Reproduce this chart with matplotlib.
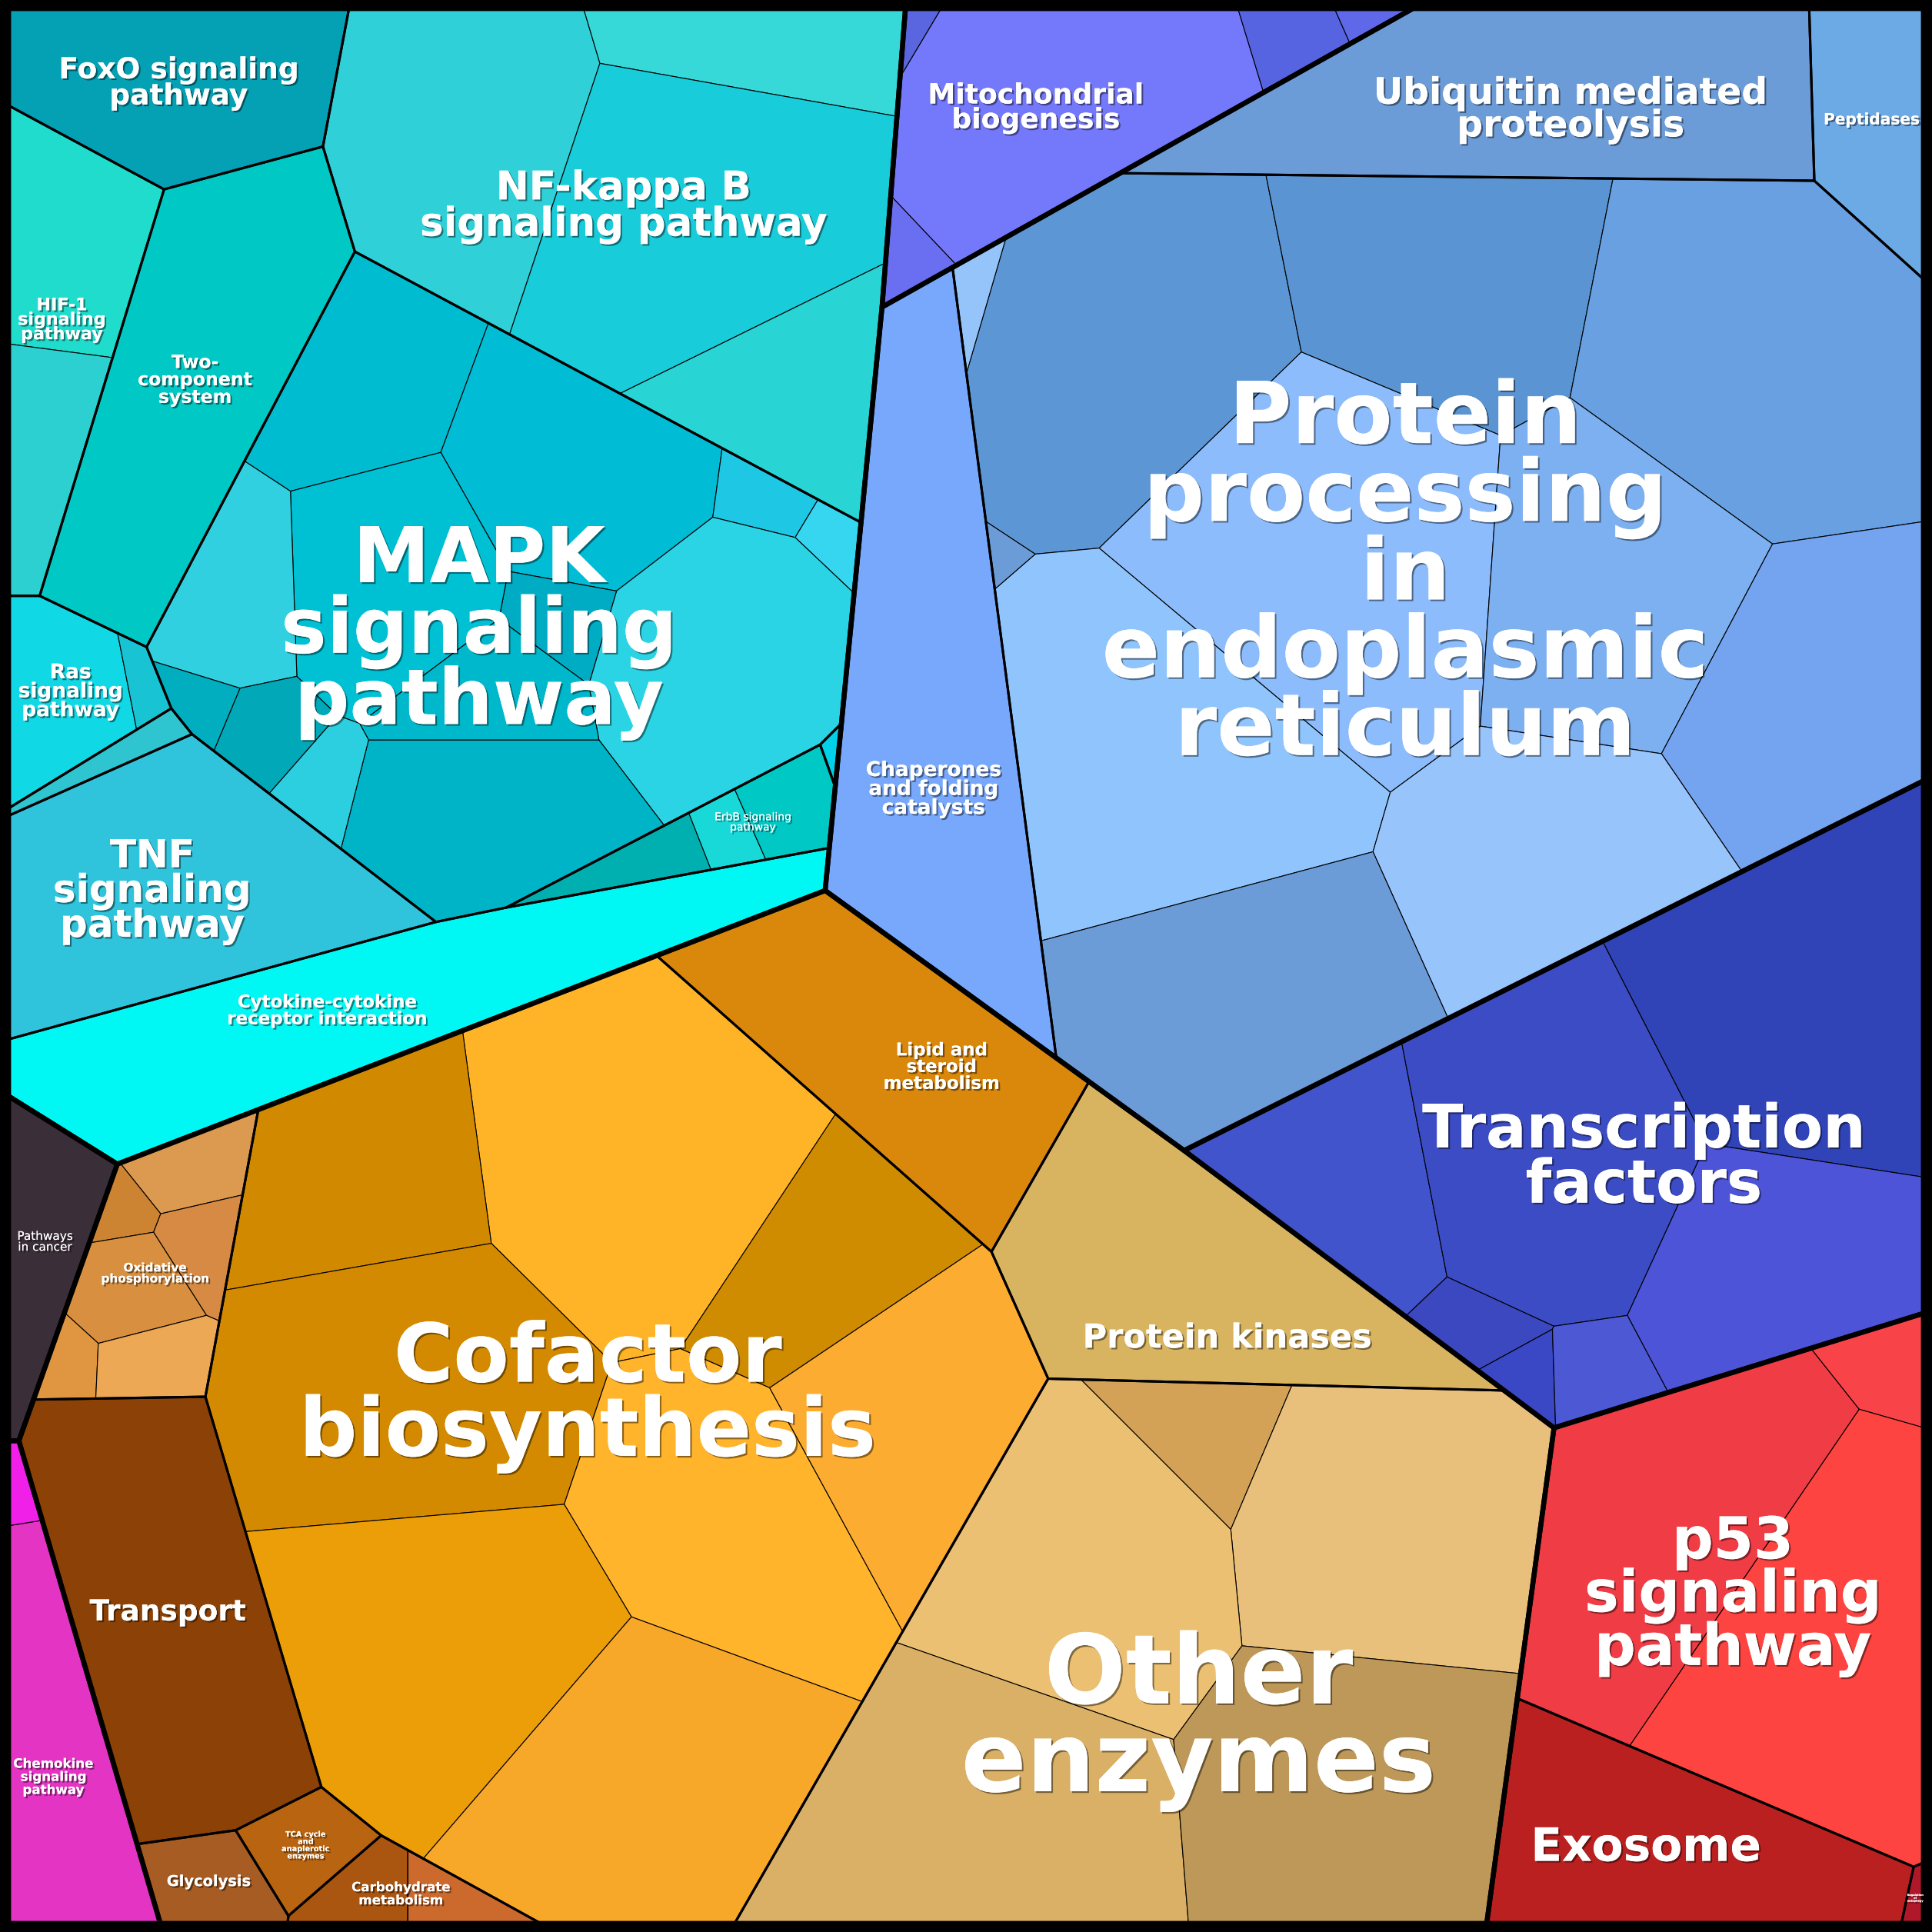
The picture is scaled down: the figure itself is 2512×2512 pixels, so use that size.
import numpy as np
import matplotlib
matplotlib.use("Agg")
import matplotlib.pyplot as plt
from matplotlib.patches import Polygon
import matplotlib.patheffects as pe

# ---- data: pathway categories (sizes of sub-categories per pathway) ----
group_names = ["Signal transduction", "Mitochondria", "Protein processing", "Transcription",
               "Metabolism", "Cancer", "Chemokine", "p53"]

pathway_labels = [
    "FoxO signaling\npathway", "NF-kappa B\nsignaling pathway", "HIF-1\nsignaling\npathway",
    "Two-\ncomponent\nsystem", "MAPK\nsignaling\npathway", "Ras\nsignaling\npathway", "",
    "TNF\nsignaling\npathway", "Cytokine-cytokine\nreceptor interaction", "ErbB signaling\npathway", "",
    "Mitochondrial\nbiogenesis",
    "Ubiquitin mediated\nproteolysis", "Peptidases", "Chaperones\nand folding\ncatalysts",
    "Protein\nprocessing\nin\nendoplasmic\nreticulum",
    "Transcription\nfactors",
    "Cofactor\nbiosynthesis", "Lipid and\nsteroid\nmetabolism", "Oxidative\nphosphorylation", "Transport",
    "Glycolysis", "TCA cycle\nand\nanaplerotic\nenzymes", "Carbohydrate\nmetabolism", "Protein kinases",
    "Other\nenzymes",
    "Pathways\nin cancer",
    "Chemokine\nsignaling\npathway",
    "p53\nsignaling\npathway", "Exosome", "Regulation\nof\nautophagy",
]
pathway_group = [0] * 11 + [1] + [2] * 4 + [3] + [4] * 9 + [5] + [6] + [7] * 3

leaf_values = [
    [31.9], [42.6, 16.4, 55.6, 21.6], [18.1, 11.0], [51.2],
    [22.0, 30.6, 3.5, 2.2, 37.3, 5.1, 27.2, 14.3, 27.4, 11.6, 5.5, 2.5, 4.5],
    [12.5, 1.7], [2.5], [49.1], [56.8], [4.1, 2.4, 5.0], [0.4],
    [41.4, 3.9, 0.9, 2.6, 0.8],
    [60.5], [16.1], [66.9], [59.8, 44.4, 66.9, 69.3, 45.9, 41.2, 61.4, 43.2, 49.1, 1.0, 2.0],
    [23.5, 51.4, 54.9, 33.8, 4.5, 2.5, 5.8],
    [62.8, 30.2, 59.0, 24.9, 46.6, 35.3, 55.7, 53.5], [44.3], [5.2, 2.0, 4.1, 6.6, 2.4, 5.2],
    [55.4], [6.7], [6.2], [4.3, 3.2], [52.0], [10.1, 51.2, 48.7, 58.0, 54.8],
    [13.2],
    [24.4, 1.2],
    [49.2, 5.2, 51.1], [38.6], [0.6],
]

# ---- layout: seed positions of the Voronoi treemap (pixel frame) ----
group_seeds = [(350, 400), (1141, 462), (1150, 478), (1157, 492),
               (648, 1171), (10, 944), (10, 1358), (1399, 1273)]
pathway_seeds = [
    (118, 91), (542, 171), (36, 243), (170, 284), (413, 412), (36, 564), (98, 665),
    (142, 764), (1490, 5673), (578, 730), (690, 690),
    (870, 95),
    (1196, 99), (1532, 89), (773, 521), (1192, 466),
    (1320, 960),
    (505, 1150), (757, 865), (125, 1080), (128, 1262), (165, 1525), (238, 1480), (290, 1540),
    (926, 962), (915, 1386),
    (45, 1010),
    (50, 1410),
    (1460, 1290), (1375, 1490), (1560, 1530),
]
leaf_seeds = [
    [(140, 70)], [(375, 120), (610, 50), (585, 190), (645, 312)], [(60, 200), (35, 390)], [(170, 320)],
    [(285, 315), (475, 385), (622, 405), (680, 440), (590, 535), (455, 495), (325, 470), (180, 475),
     (400, 680), (400, 570), (205, 595), (150, 572), (262, 645)],
    [(50, 575), (126, 560)], [(70, 632)], [(120, 735)], [(300, 818)],
    [(500, 705), (584, 672), (645, 645)], [(670, 693)],
    [(870, 95), (1050, 40), (1102, 17), (738, 220), (748, 22)],
    [(1250, 80)], [(1520, 100)], [(757, 515)],
    [(925, 290), (1175, 240), (1430, 290), (1085, 455), (1300, 470), (1470, 560), (955, 610),
     (1265, 700), (1010, 815), (818, 452), (788, 250)],
    [(1100, 970), (1255, 940), (1470, 830), (1440, 1025), (1195, 1070), (1218, 1112), (1280, 1110)],
    [(530, 925), (308, 955), (337, 1120), (669, 1017), (587, 1204), (739, 1121), (356, 1342), (493, 1460)],
    [(770, 875)], [(150, 950), (100, 990), (165, 1015), (110, 1050), (60, 1105), (125, 1108)],
    [(135, 1300)], [(165, 1525)], [(238, 1480)], [(258, 1535), (332, 1535)], [(1005, 1075)],
    [(945, 1185), (1110, 1255), (850, 1280), (780, 1480), (1090, 1455)],
    [(45, 1010)],
    [(50, 1420), (13, 1188)],
    [(1360, 1245), (1530, 1110), (1470, 1320)], [(1375, 1490)], [(1555, 1540)],
]

# ---- styles ----
leaf_colors = [
    ["#04a0b4"], ["#2fd0d8", "#36d8d8", "#18ccda", "#28d4d4"], ["#20dccc", "#2cd0d0"], ["#00c8c4"],
    ["#00bcd0", "#00bcd4", "#1ec8e4", "#36d6f0", "#2ad4e4", "#00acc4", "#00c0d4", "#30d0e0",
     "#00b4c8", "#00b8cc", "#00a8b8", "#00aec0", "#2ccfe0"],
    ["#10d8e4", "#18c4d4"], ["#2ec4d0"], ["#30c4dc"], ["#00f8f4"], ["#00b0b0", "#18d8d8", "#00c8c4"],
    ["#00d0e8"],
    ["#7478fa", "#5664e2", "#6068ea", "#6a6ef0", "#5a66e0"],
    ["#6c9cd8"], ["#6caae6"], ["#78a8fc"],
    ["#5c96d4", "#5a94d2", "#68a0e2", "#8cbcfc", "#7cb0f0", "#74a4f0", "#90c4fc", "#98c4fc",
     "#6c9cd8", "#6c9cd8", "#94c4fa"],
    ["#4254cc", "#3c4cc4", "#3044b8", "#4e54d8", "#3c48c0", "#3a48c6", "#4c58d4"],
    ["#ffb428", "#d18900", "#d48a00", "#d08c00", "#ffb42c", "#fcac30", "#ec9e08", "#f8a828"],
    ["#da880c"], ["#dc9a50", "#cc8432", "#d68a44", "#d89040", "#e09640", "#eca855"],
    ["#8c4206"], ["#a65c22"], ["#b86410"], ["#aa5510", "#cc6a2e"], ["#d8b460"],
    ["#d4a257", "#e8c07c", "#ecc072", "#d9b066", "#be9858"],
    ["#3a2e38"],
    ["#e434c4", "#f020e8"],
    ["#f03c44", "#f84448", "#fe4440"], ["#bb2020"], ["#b0182a"],
]
label_size = [27, 37, 16, 17, 72, 19, 0, 36, 16.5, 10, 0, 26, 34, 14.5, 19, 80, 56,
              76, 16.5, 11, 27, 14, 7, 12, 31, 90, 11, 12, 54, 43, 2.5]
label_weight = ["bold"] * len(pathway_labels)
label_weight[9] = "normal"
label_weight[26] = "normal"
label_nudge = {1: (-18, 3), 4: (-15, 20), 7: (-17, 2), 14: (0, 80), 8: (-30, 5), 9: (25, -8),
               11: (-25, 0), 12: (30, 8), 15: (-18, -10), 16: (0, 15), 17: (-8, -35),
               18: (40, 12), 24: (30, 50), 25: (0, 40), 27: (-5, 20), 28: (-15, 10), 29: (-15, 3)}

SIZE = 1568
FRAME = 7


def clip(poly, a, b, c):
    out = []
    n = len(poly)
    for k in range(n):
        p, q = poly[k], poly[(k + 1) % n]
        fp = a * p[0] + b * p[1] - c
        fq = a * q[0] + b * q[1] - c
        if fp <= 0:
            out.append(p)
        if (fp < 0 < fq) or (fq < 0 < fp):
            t = fp / (fp - fq)
            out.append((p[0] + t * (q[0] - p[0]), p[1] + t * (q[1] - p[1])))
    return out


def area(poly):
    if len(poly) < 3:
        return 0.0
    s = 0.0
    for k in range(len(poly)):
        x1, y1 = poly[k]
        x2, y2 = poly[(k + 1) % len(poly)]
        s += x1 * y2 - x2 * y1
    return abs(s) / 2


def centroid(poly):
    s = cx = cy = 0.0
    for k in range(len(poly)):
        x1, y1 = poly[k]
        x2, y2 = poly[(k + 1) % len(poly)]
        cr = x1 * y2 - x2 * y1
        s += cr
        cx += (x1 + x2) * cr
        cy += (y1 + y2) * cr
    return cx / (3 * s), cy / (3 * s)


def dist_to_poly(p, poly):
    # 0 inside the convex polygon, otherwise distance to its outline
    n = len(poly)
    inside = True
    best = np.inf
    for k in range(n):
        (x1, y1), (x2, y2) = poly[k], poly[(k + 1) % n]
        ex, ey = x2 - x1, y2 - y1
        if ex * (p[1] - y1) - ey * (p[0] - x1) < 0:
            inside = False
        t = np.clip(((p[0] - x1) * ex + (p[1] - y1) * ey) / (ex * ex + ey * ey), 0, 1)
        best = min(best, np.hypot(p[0] - x1 - t * ex, p[1] - y1 - t * ey))
    return 0.0 if inside else best


def bisector(sites, w, i, j):
    (xi, yi), (xj, yj) = sites[i], sites[j]
    a, b = 2 * (xj - xi), 2 * (yj - yi)
    c = xj * xj + yj * yj - xi * xi - yi * yi - w[j] + w[i]
    return a, b, c


def power_cells(domain, sites, w):
    cells = []
    for i in range(len(sites)):
        poly = list(domain)
        for j in range(len(sites)):
            if j != i and poly:
                poly = clip(poly, *bisector(sites, w, i, j))
        cells.append(poly)
    return cells


def hessian(cells, sites, w):
    n = len(sites)
    H = np.zeros((n, n))
    for i in range(n):
        for j in range(n):
            if i == j or len(cells[i]) < 3:
                continue
            a, b, c = bisector(sites, w, i, j)
            nrm = np.hypot(a, b)
            on = [p for p in cells[i] if abs(a * p[0] + b * p[1] - c) / nrm < 1e-5]
            if len(on) < 2:
                continue
            s = [(-b * p[0] + a * p[1]) / nrm for p in on]
            h = (max(s) - min(s)) / nrm
            H[i, j] -= h
            H[i, i] += h
    return H


def fit_cells(domain, sites, values):
    n = len(sites)
    if n == 1:
        return [list(domain)]
    T = np.array(values, float) / sum(values) * area(domain)
    w = np.array([dist_to_poly(s, domain) ** 2 for s in sites])
    cells = power_cells(domain, sites, w)
    A = np.array([area(c) for c in cells])
    bump = np.full(n, T.mean() * 0.02)
    for _ in range(120):
        empty = A <= 1e-9
        if not empty.any():
            break
        w[empty] += bump[empty]
        bump[empty] *= 1.3
        cells = power_cells(domain, sites, w)
        A = np.array([area(c) for c in cells])
    for _ in range(120):
        r = T - A
        if np.abs(r / T).max() < 2e-4:
            break
        H = hessian(cells, sites, w)
        d = np.diag(H).copy()
        dmean = d[d > 0].mean() if (d > 0).any() else 1.0
        for i in range(n):
            if d[i] <= 0:
                H[i, i] = dmean
        delta = np.linalg.lstsq(H, r, rcond=None)[0]
        base = min((A / T).min(), 1.0)
        t, ok = 1.0, False
        while t > 1e-5:
            w_try = w + t * delta
            c_try = power_cells(domain, sites, w_try)
            A_try = np.array([area(c) for c in c_try])
            if (A_try / T).min() >= 0.5 * base and \
                    np.linalg.norm(T - A_try) <= (1 - t / 2) * np.linalg.norm(r):
                ok = True
                break
            t *= 0.5
        if not ok:
            break
        w, cells, A = w_try, c_try, A_try
    return cells


# ---- build the hierarchy ----
path_value = [sum(v) for v in leaf_values]
group_paths = [[p for p in range(len(pathway_labels)) if pathway_group[p] == g]
               for g in range(len(group_names))]
group_value = [sum(path_value[p] for p in ps) for ps in group_paths]

domain = [(FRAME, FRAME), (SIZE - FRAME, FRAME), (SIZE - FRAME, SIZE - FRAME), (FRAME, SIZE - FRAME)]
group_cells = fit_cells(domain, group_seeds, group_value)

path_cells = {}
leaf_cells = {}
for g, ps in enumerate(group_paths):
    cells = fit_cells(group_cells[g], [pathway_seeds[p] for p in ps], [path_value[p] for p in ps])
    for p, cell in zip(ps, cells):
        path_cells[p] = cell
        leaf_cells[p] = fit_cells(cell, leaf_seeds[p], leaf_values[p])

# ---- draw ----
fig = plt.figure(figsize=(25.12, 25.12), dpi=100, facecolor="black")
ax = fig.add_axes([0, 0, 1, 1])
ax.set_xlim(0, SIZE)
ax.set_ylim(SIZE, 0)
ax.set_facecolor("black")
ax.axis("off")

for p in range(len(pathway_labels)):
    for cell, col in zip(leaf_cells[p], leaf_colors[p]):
        if len(cell) >= 3:
            ax.add_patch(Polygon(cell, closed=True, facecolor=col, edgecolor="black",
                                 linewidth=0.8, joinstyle="round"))
for p in range(len(pathway_labels)):
    if len(path_cells[p]) >= 3:
        ax.add_patch(Polygon(path_cells[p], closed=True, fill=False, edgecolor="black",
                             linewidth=2.2, joinstyle="round"))
for cell in group_cells:
    if len(cell) >= 3:
        ax.add_patch(Polygon(cell, closed=True, fill=False, edgecolor="black",
                             linewidth=4.6, joinstyle="round"))

shadow = [pe.withSimplePatchShadow(offset=(1.6, -1.6), shadow_rgbFace="black", alpha=0.45),
          pe.Normal()]
for p, text in enumerate(pathway_labels):
    if not text or len(path_cells[p]) < 3:
        continue
    cx, cy = centroid(path_cells[p])
    dx, dy = label_nudge.get(p, (0, 0))
    ax.text(cx + dx, cy + dy, text, ha="center", va="center", color="white",
            fontsize=label_size[p], fontweight=label_weight[p], linespacing=0.93,
            family="DejaVu Sans", path_effects=shadow)

fig.savefig("out.png", dpi=100, facecolor="black")
